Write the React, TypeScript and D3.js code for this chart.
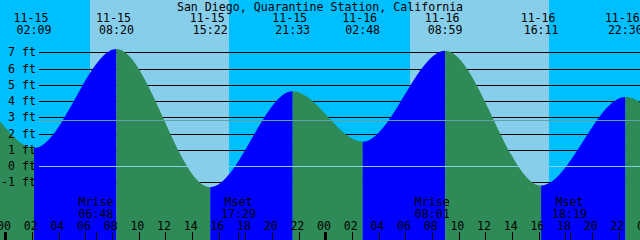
import React from "react";
import * as d3 from "d3";

const W = 640;
const H = 240;

const title = "San Diego, Quarantine Station, California";

// tide extremes (the first two and last two lie outside the visible window)
const tideDates = ["11-14", "11-14", "11-15", "11-15", "11-15", "11-15", "11-16", "11-16", "11-16", "11-16", "11-17", "11-17"];
const tideTimes = ["14:30", "20:45", "02:09", "08:20", "15:22", "21:33", "02:48", "08:59", "16:11", "22:30", "03:30", "09:40"];
const tideHeights = [-1.3, 4.7, 1.1, 7.2, -1.3, 4.6, 1.5, 7.1, -1.2, 4.25, 1.8, 6.9];
const tideLabeled = [false, false, true, true, true, true, true, true, true, true, false, false];

const sunriseTimes = ["11-15 06:21", "11-16 06:21"];
const sunsetTimes = ["11-15 16:47", "11-16 16:47"];

const moonLabels = ["Mrise", "Mset", "Mrise", "Mset"];
const moonTimes = ["11-15 06:48", "11-15 17:29", "11-16 08:01", "11-16 18:19"];

const footTicks = [-1, 0, 1, 2, 3, 4, 5, 6, 7];
const hourTicks = d3.range(0, 49, 2);
const meanLevel = 2.82;

const toHours = (date: string, time: string) => {
  const day = +date.split("-")[1];
  const [hh, mm] = time.split(":").map(Number);
  return (day - 15) * 24 + hh + mm / 60;
};
const parseDT = (s: string) => {
  const [d, t] = s.split(" ");
  return toHours(d, t);
};

const FONT = "'DejaVu Sans Mono', 'Liberation Mono', monospace";

export default function App() {
  const x = d3.scaleLinear().domain([-0.4, 47.6]).range([0, W]);
  const y = d3.scaleLinear().domain([-1, 7]).range([182.3, 52.3]);

  const pts = tideTimes.map((t, i) => ({
    h: toHours(tideDates[i], t),
    v: tideHeights[i],
  }));

  const area = d3
    .area<{ h: number; v: number }>()
    .x((d) => x(d.h))
    .y0(H)
    .y1((d) => y(d.v))
    .curve(d3.curveMonotoneX);
  const areaPath = area(pts) || "";

  const segs = pts.slice(0, -1).map((p, i) => ({
    x0: x(p.h),
    x1: x(pts[i + 1].h),
    rising: pts[i + 1].v > p.v,
  }));

  const days = sunriseTimes.map((s, i) => ({
    x0: x(parseDT(s)),
    x1: x(parseDT(sunsetTimes[i])),
  }));

  const moons = moonTimes.map((m, i) => ({
    x: x(parseDT(m)),
    label: moonLabels[i],
    time: m.split(" ")[1],
  }));

  return (
    <svg
      width={W}
      height={H}
      style={{ position: "absolute", left: 0, top: 0, display: "block" }}
      shapeRendering="crispEdges"
    >
      <defs>
        <clipPath id="tideClip">
          <path d={areaPath} />
        </clipPath>
      </defs>
      <rect x={0} y={0} width={W} height={H} fill="#00BFFF" />
      {days.map((d, i) => (
        <rect key={i} x={d.x0} y={0} width={d.x1 - d.x0} height={H} fill="#87CEEB" />
      ))}
      {footTicks.map((f) => (
        <line key={f} x1={39} x2={W} y1={Math.round(y(f)) + 0.5} y2={Math.round(y(f)) + 0.5} stroke="#000" strokeWidth={1} />
      ))}
      <g clipPath="url(#tideClip)" shapeRendering="auto">
        {segs.map((s, i) => (
          <rect key={i} x={s.x0} y={0} width={s.x1 - s.x0} height={H} fill={s.rising ? "#0000FF" : "#2E8B57"} />
        ))}
      </g>
      <line x1={39} x2={W} y1={Math.round(y(meanLevel)) + 0.5} y2={Math.round(y(meanLevel)) + 0.5} stroke="#5FA3A8" strokeWidth={1} />
      <line x1={39} x2={W} y1={Math.round(y(0)) + 0.5} y2={Math.round(y(0)) + 0.5} stroke="#87CEEB" strokeWidth={1} />
      <g fontFamily={FONT} fontSize={11.6} fill="#000">
        {footTicks.map((f) => (
          <text key={f} x={36} y={y(f) + 4} textAnchor="end">
            {`${f} ft`}
          </text>
        ))}
        <text x={320} y={11} textAnchor="middle">
          {title}
        </text>
        {pts.map((p, i) =>
          tideLabeled[i] ? (
            <g key={i}>
              <text x={x(p.h) - 3} y={22} textAnchor="middle">
                {tideDates[i]}
              </text>
              <text x={x(p.h)} y={33.5} textAnchor="middle">
                {tideTimes[i]}
              </text>
            </g>
          ) : null
        )}
        {moons.map((m, i) => (
          <g key={i}>
            <text x={m.x} y={206} textAnchor="middle">
              {m.label}
            </text>
            <text x={m.x} y={217.5} textAnchor="middle">
              {m.time}
            </text>
          </g>
        ))}
        {hourTicks.map((h) => (
          <text key={h} x={x(h) - 1.3} y={230} textAnchor="middle">
            {String(h % 24).padStart(2, "0")}
          </text>
        ))}
      </g>
      {hourTicks.map((h) => (
        <rect
          key={h}
          x={Math.round(x(h)) - (h % 24 === 0 ? 1 : 0)}
          y={232}
          width={h % 24 === 0 ? 3 : 1}
          height={8}
          fill="#000"
        />
      ))}
      {moons.map((m, i) => (
        <rect key={i} x={Math.round(m.x)} y={232} width={1} height={8} fill="#000" />
      ))}
    </svg>
  );
}
